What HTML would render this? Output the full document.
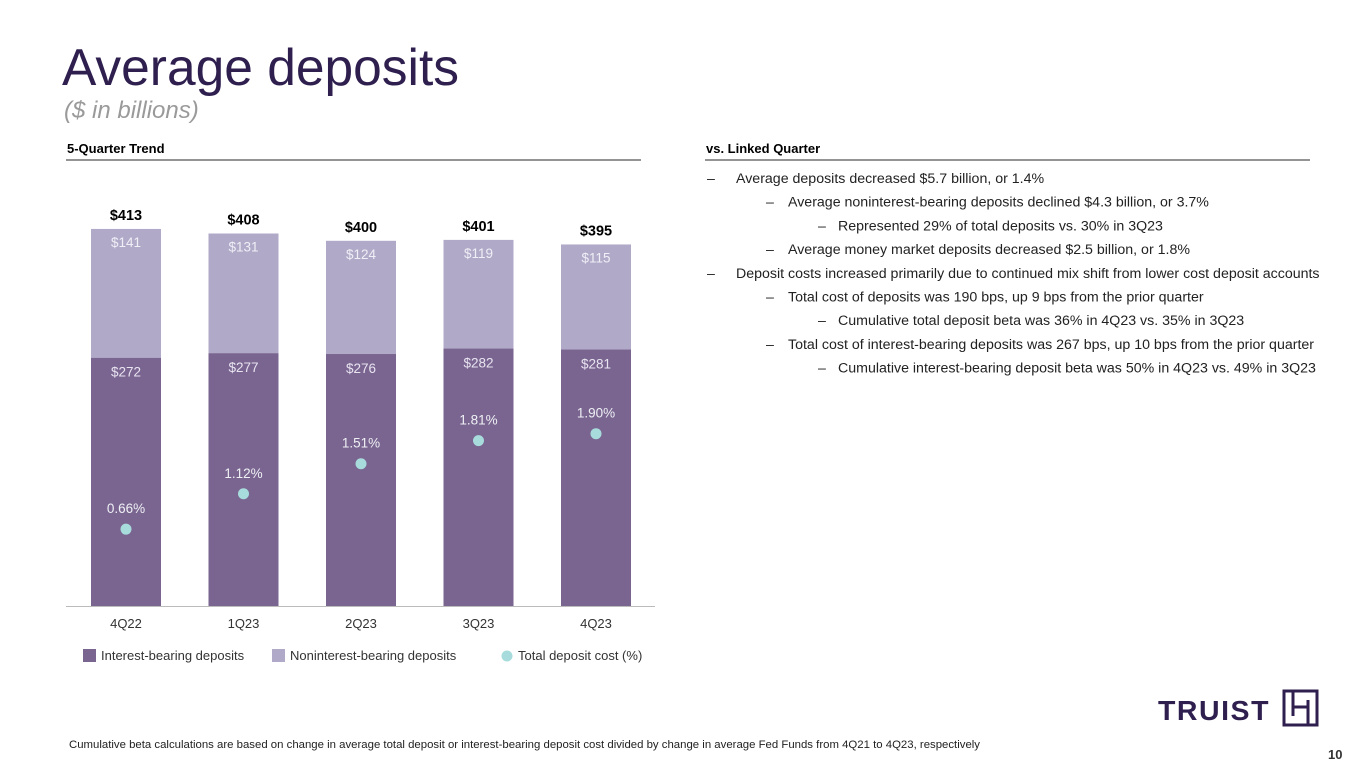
<!DOCTYPE html>
<html><head><meta charset="utf-8"><style>
body{margin:0;background:#fff;}
svg{display:block;font-family:"Liberation Sans",Arial,sans-serif;}
</style></head><body>
<svg id="s" width="1365" height="768" viewBox="0 0 1365 768">
<text x="62" y="85" font-size="51.5" fill="#2e1f4f">Average deposits</text>
<text x="64" y="118" font-size="24" font-style="italic" fill="#9a9a9a">($ in billions)</text>
<text x="67" y="153" font-size="13" font-weight="bold" fill="#000">5-Quarter Trend</text>
<line x1="66" y1="160" x2="641" y2="160" stroke="#555" stroke-width="1.3"/>
<text x="706" y="153" font-size="13" font-weight="bold" fill="#000">vs. Linked Quarter</text>
<line x1="705" y1="160" x2="1310" y2="160" stroke="#555" stroke-width="1.3"/>
<g id="notes" font-size="14.2" fill="#222"></g>
<g id="chart"></g>
<g font-size="13" fill="#333">
<g><rect x="83" y="649" width="13" height="13" fill="#7a6591"/><text x="101" y="660">Interest-bearing deposits</text></g>
<g><rect x="272" y="649" width="13" height="13" fill="#b0aac8"/><text x="290" y="660">Noninterest-bearing deposits</text></g>
<g><circle cx="507" cy="656" r="5.5" fill="#a8dcdc"/><text x="518" y="660">Total deposit cost (%)</text></g>
</g>
<g>
<text x="1158" y="720" font-size="28" font-weight="bold" fill="#2e1f4f" letter-spacing="1.5" textLength="112" lengthAdjust="spacingAndGlyphs">TRUIST</text>
<rect x="1284" y="691" width="33" height="34" fill="none" stroke="#2e1f4f" stroke-width="3"/>
<path d="M1293 692V716M1308 700V724M1293 707H1308" stroke="#2e1f4f" stroke-width="3" fill="none"/>
</g>
<text x="69" y="748" font-size="11.3" fill="#222" textLength="911" lengthAdjust="spacingAndGlyphs">Cumulative beta calculations are based on change in average total deposit or interest-bearing deposit cost divided by change in average Fed Funds from 4Q21 to 4Q23, respectively</text>
<text x="1328" y="759" font-size="13" font-weight="bold" fill="#333">10</text>
</svg>
<script>
const categories=["4Q22","1Q23","2Q23","3Q23","4Q23"];
const interestBearing=[272,277,276,282,281];
const nonInterestBearing=[141,131,124,119,115];
const totals=[413,408,400,401,395];
const depositCost=[0.66,1.12,1.51,1.81,1.90];
const notes=[[1,"Average deposits decreased $5.7 billion, or 1.4%"],[2,"Average noninterest-bearing deposits declined $4.3 billion, or 3.7%"],[3,"Represented 29% of total deposits vs. 30% in 3Q23"],[2,"Average money market deposits decreased $2.5 billion, or 1.8%"],[1,"Deposit costs increased primarily due to continued mix shift from lower cost deposit accounts"],[2,"Total cost of deposits was 190 bps, up 9 bps from the prior quarter"],[3,"Cumulative total deposit beta was 36% in 4Q23 vs. 35% in 3Q23"],[2,"Total cost of interest-bearing deposits was 267 bps, up 10 bps from the prior quarter"],[3,"Cumulative interest-bearing deposit beta was 50% in 4Q23 vs. 49% in 3Q23"]];
const NS="http://www.w3.org/2000/svg";
function mk(t,a,p,txt){const e=document.createElementNS(NS,t);for(const k in a)e.setAttribute(k,a[k]);if(txt!==undefined)e.textContent=txt;p.appendChild(e);return e;}
const ng=document.getElementById('notes');
const dashX={1:707,2:766,3:818},txX={1:736,2:788,3:838};
notes.forEach((n,i)=>{const y=183+i*23.7;
const d=mk('text',{x:dashX[n[0]],y:y},ng,'–');


const t=mk('text',{x:txX[n[0]],y:y},ng,n[1]);

});
const g=document.getElementById('chart');
const base=606,k=0.913,x0=126,step=117.5,bw=70;
const xs=i=>x0+i*step, yv=v=>base-v*k, yc=p=>580-p*77;
mk('line',{x1:66,y1:base+0.5,x2:655,y2:base+0.5,stroke:'#bbb'},g);
categories.forEach((c,i)=>{const cx=xs(i);
const yb=yv(interestBearing[i]),yt=yv(interestBearing[i]+nonInterestBearing[i]);
const r1=mk('rect',{x:cx-bw/2,y:yb,width:bw,height:base-yb,fill:'#7a6591'},g);


const r2=mk('rect',{x:cx-bw/2,y:yt,width:bw,height:yb-yt,fill:'#b0aac8'},g);


const l1=mk('text',{x:cx,y:yb+19,'font-size':13.5,fill:'#e8e4f0','text-anchor':'middle'},g,'$'+interestBearing[i]);


const l2=mk('text',{x:cx,y:yt+18,'font-size':13.5,fill:'#f0eef6','text-anchor':'middle'},g,'$'+nonInterestBearing[i]);


const l3=mk('text',{x:cx,y:yt-9,'font-size':14.5,'font-weight':'bold',fill:'#000','text-anchor':'middle'},g,'$'+totals[i]);


const dy=yc(depositCost[i]);
const dot=mk('circle',{cx:cx,cy:dy,r:5.5,fill:'#a8dcdc'},g);


const l4=mk('text',{x:cx,y:dy-16,'font-size':13.5,fill:'#eef0f4','text-anchor':'middle'},g,depositCost[i].toFixed(2)+'%');


const xl=mk('text',{x:cx,y:628,'font-size':13,fill:'#333','text-anchor':'middle'},g,c);


});
</script>
</body></html>
